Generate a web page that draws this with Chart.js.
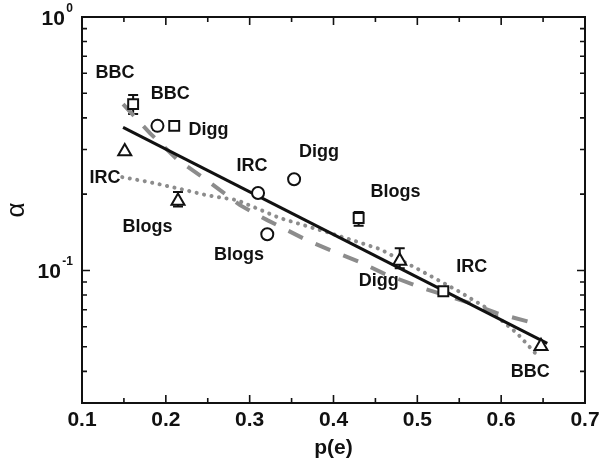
<!DOCTYPE html>
<html>
<head>
<meta charset="utf-8">
<script src="https://cdn.jsdelivr.net/npm/chart.js@4.4.1/dist/chart.umd.min.js"></script>
<style>
  html, body { margin: 0; padding: 0; background: #fff; }
</style>
</head>
<body>
<canvas id="chartAlpha" width="607" height="469"></canvas>
<script>
(function () {
  'use strict';

  // axes
  var xTicks = [0.1, 0.2, 0.3, 0.4, 0.5, 0.6, 0.7];
  var xMinorTicks = [0.15, 0.25, 0.35, 0.45, 0.55, 0.65];
  var yTicks = [1, 0.1];
  var yTickExp = ['0', '-1'];
  var yMinorTicks = [0.03, 0.04, 0.05, 0.06, 0.07, 0.08, 0.09, 0.2, 0.3, 0.4, 0.5, 0.6, 0.7, 0.8, 0.9];

  // squares
  var squareX = [0.161, 0.210, 0.430, 0.531];
  var squareY = [0.453, 0.372, 0.161, 0.0828];
  var squareLo = [0.414, null, 0.150, null];
  var squareHi = [0.492, null, 0.170, null];

  // circles
  var circleX = [0.190, 0.310, 0.353, 0.321];
  var circleY = [0.372, 0.202, 0.229, 0.139];
  var circleLo = [0.360, null, null, null];
  var circleHi = [0.384, null, null, null];

  // triangles
  var triangleX = [0.151, 0.2145, 0.479, 0.6475];
  var triangleY = [0.295, 0.188, 0.109, 0.0502];
  var triangleLo = [null, 0.179, 0.102, null];
  var triangleHi = [null, 0.204, 0.1225, null];

  // solid fit
  var fitX = [0.149, 0.655];
  var fitY = [0.367, 0.0516];

  // dashed curve
  var dashX = [0.149, 0.181, 0.2145, 0.249, 0.2885, 0.321, 0.368, 0.396, 0.432, 0.459, 0.503, 0.563, 0.595, 0.644];
  var dashY = [0.453, 0.348, 0.2725, 0.227, 0.181, 0.158, 0.1318, 0.1203, 0.1078, 0.0976, 0.0859, 0.0743, 0.0678, 0.0614];

  // dotted curve
  var dotX = [0.148, 0.181, 0.213, 0.249, 0.285, 0.336, 0.396, 0.4555, 0.503, 0.547, 0.583, 0.619, 0.644];
  var dotY = [0.2335, 0.223, 0.2113, 0.198, 0.1895, 0.161, 0.1404, 0.1214, 0.1003, 0.0836, 0.071, 0.0565, 0.0459];

  // text labels (x, y in data units, centre of capitals)
  var labelText = ['BBC', 'BBC', 'Digg', 'IRC', 'IRC', 'Blogs', 'Blogs', 'Digg', 'Blogs', 'Digg', 'IRC', 'BBC'];
  var labelX = [0.1394, 0.2053, 0.2509, 0.1274, 0.3028, 0.1781, 0.2873, 0.3827, 0.474, 0.454, 0.5648, 0.6348];
  var labelY = [0.6065, 0.502, 0.3635, 0.235, 0.2617, 0.151, 0.1167, 0.2958, 0.2061, 0.0918, 0.1043, 0.0403];

  var FONT = '"Liberation Sans", Arial, Helvetica, sans-serif';
  var INK = '#111';
  var GREY = '#8c8c8c';

  function pts(xs, ys) {
    return xs.map(function (x, i) { return { x: x, y: ys[i] }; });
  }

  function errorBars(ctx, sx, sy, xs, lo, hi) {
    for (var i = 0; i < xs.length; i++) {
      if (lo[i] == null) continue;
      var px = sx.getPixelForValue(xs[i]);
      var top = sy.getPixelForValue(hi[i]);
      var bot = sy.getPixelForValue(lo[i]);
      ctx.beginPath();
      ctx.moveTo(px, top); ctx.lineTo(px, bot);
      ctx.moveTo(px - 5, top); ctx.lineTo(px + 5, top);
      ctx.moveTo(px - 5, bot); ctx.lineTo(px + 5, bot);
      ctx.stroke();
    }
  }

  var decor = {
    id: 'decor',
    beforeDatasetsDraw: function (chart) {
      var ctx = chart.ctx;
      var sx = chart.scales.x, sy = chart.scales.y;
      ctx.save();
      ctx.strokeStyle = INK;
      ctx.lineWidth = 2;
      errorBars(ctx, sx, sy, squareX, squareLo, squareHi);
      errorBars(ctx, sx, sy, circleX, circleLo, circleHi);
      errorBars(ctx, sx, sy, triangleX, triangleLo, triangleHi);
      ctx.restore();
    },
    afterDraw: function (chart) {
      var ctx = chart.ctx;
      var a = chart.chartArea;
      var sx = chart.scales.x, sy = chart.scales.y;
      ctx.save();
      ctx.strokeStyle = INK;
      ctx.lineWidth = 2;
      ctx.strokeRect(a.left, a.top, a.right - a.left, a.bottom - a.top);

      ctx.lineWidth = 1.6;
      ctx.beginPath();
      xTicks.forEach(function (v) {
        var px = sx.getPixelForValue(v);
        ctx.moveTo(px, a.bottom); ctx.lineTo(px, a.bottom - 8);
        ctx.moveTo(px, a.top); ctx.lineTo(px, a.top + 8);
      });
      xMinorTicks.forEach(function (v) {
        var px = sx.getPixelForValue(v);
        ctx.moveTo(px, a.bottom); ctx.lineTo(px, a.bottom - 5);
        ctx.moveTo(px, a.top); ctx.lineTo(px, a.top + 5);
      });
      yTicks.forEach(function (v) {
        var py = sy.getPixelForValue(v);
        ctx.moveTo(a.left, py); ctx.lineTo(a.left + 8, py);
        ctx.moveTo(a.right, py); ctx.lineTo(a.right - 8, py);
      });
      yMinorTicks.forEach(function (v) {
        var py = sy.getPixelForValue(v);
        ctx.moveTo(a.left, py); ctx.lineTo(a.left + 5, py);
        ctx.moveTo(a.right, py); ctx.lineTo(a.right - 5, py);
      });
      ctx.stroke();

      // y tick labels 10^n
      ctx.fillStyle = INK;
      ctx.textAlign = 'right';
      ctx.textBaseline = 'alphabetic';
      yTicks.forEach(function (v, i) {
        var py = sy.getPixelForValue(v);
        var right = a.left - 9;
        ctx.font = 'bold 12px ' + FONT;
        var sw = ctx.measureText(yTickExp[i]).width;
        ctx.fillText(yTickExp[i], right, py - 5);
        ctx.font = 'bold 21px ' + FONT;
        ctx.fillText('10', right - sw - 1.5, py + 7.5);
      });

      // point labels
      ctx.font = 'bold 18px ' + FONT;
      ctx.textAlign = 'center';
      for (var i = 0; i < labelText.length; i++) {
        ctx.fillText(labelText[i], sx.getPixelForValue(labelX[i]), sy.getPixelForValue(labelY[i]) + 6.4);
      }
      ctx.restore();
    }
  };

  var marker = { backgroundColor: '#fff', borderColor: INK, borderWidth: 2, showLine: false, order: 0 };

  new Chart(document.getElementById('chartAlpha'), {
    type: 'scatter',
    data: {
      datasets: [
        Object.assign({ label: 'squares', data: pts(squareX, squareY), pointStyle: 'rect', pointRadius: 7 }, marker),
        Object.assign({ label: 'circles', data: pts(circleX, circleY), pointStyle: 'circle', pointRadius: 6 }, marker),
        Object.assign({ label: 'triangles', data: pts(triangleX, triangleY), pointStyle: 'triangle', pointRadius: 7.5 }, marker),
        {
          label: 'fit', data: pts(fitX, fitY), showLine: true, pointRadius: 0,
          borderColor: INK, borderWidth: 3, order: 1
        },
        {
          label: 'dashed', data: pts(dashX, dashY), showLine: true, pointRadius: 0,
          borderColor: GREY, borderWidth: 4, borderDash: [16, 14], order: 2
        },
        {
          label: 'dotted', data: pts(dotX, dotY), showLine: true, pointRadius: 0,
          borderColor: GREY, borderWidth: 4, borderDash: [0.1, 7.5], borderCapStyle: 'round', order: 2
        }
      ]
    },
    options: {
      responsive: false,
      animation: false,
      devicePixelRatio: 1,
      layout: { padding: { top: 17, right: 22, left: 0, bottom: 0 } },
      plugins: { legend: { display: false }, tooltip: { enabled: false } },
      scales: {
        x: {
          type: 'linear', min: 0.1, max: 0.7,
          afterFit: function (s) { s.height = 66; },
          afterBuildTicks: function (s) { s.ticks = xTicks.map(function (v) { return { value: v }; }); },
          grid: { display: false, drawTicks: false },
          border: { display: false },
          ticks: {
            padding: 5, color: INK, maxRotation: 0,
            font: { family: FONT, size: 21, weight: 'bold' },
            callback: function (v) { return Number(v).toFixed(1); }
          },
          title: {
            display: true, text: 'p(e)', color: INK,
            font: { family: FONT, size: 21, weight: 'bold' },
            padding: { top: 0, bottom: 8 }
          }
        },
        y: {
          type: 'logarithmic', min: 0.03, max: 1,
          afterFit: function (s) { s.width = 82; },
          grid: { display: false, drawTicks: false },
          border: { display: false },
          ticks: { display: false },
          title: {
            display: true, text: 'α', color: INK,
            font: { family: FONT, size: 26 },
            padding: { top: 1, bottom: 0 }
          }
        }
      }
    },
    plugins: [decor]
  });
})();
</script>
</body>
</html>
